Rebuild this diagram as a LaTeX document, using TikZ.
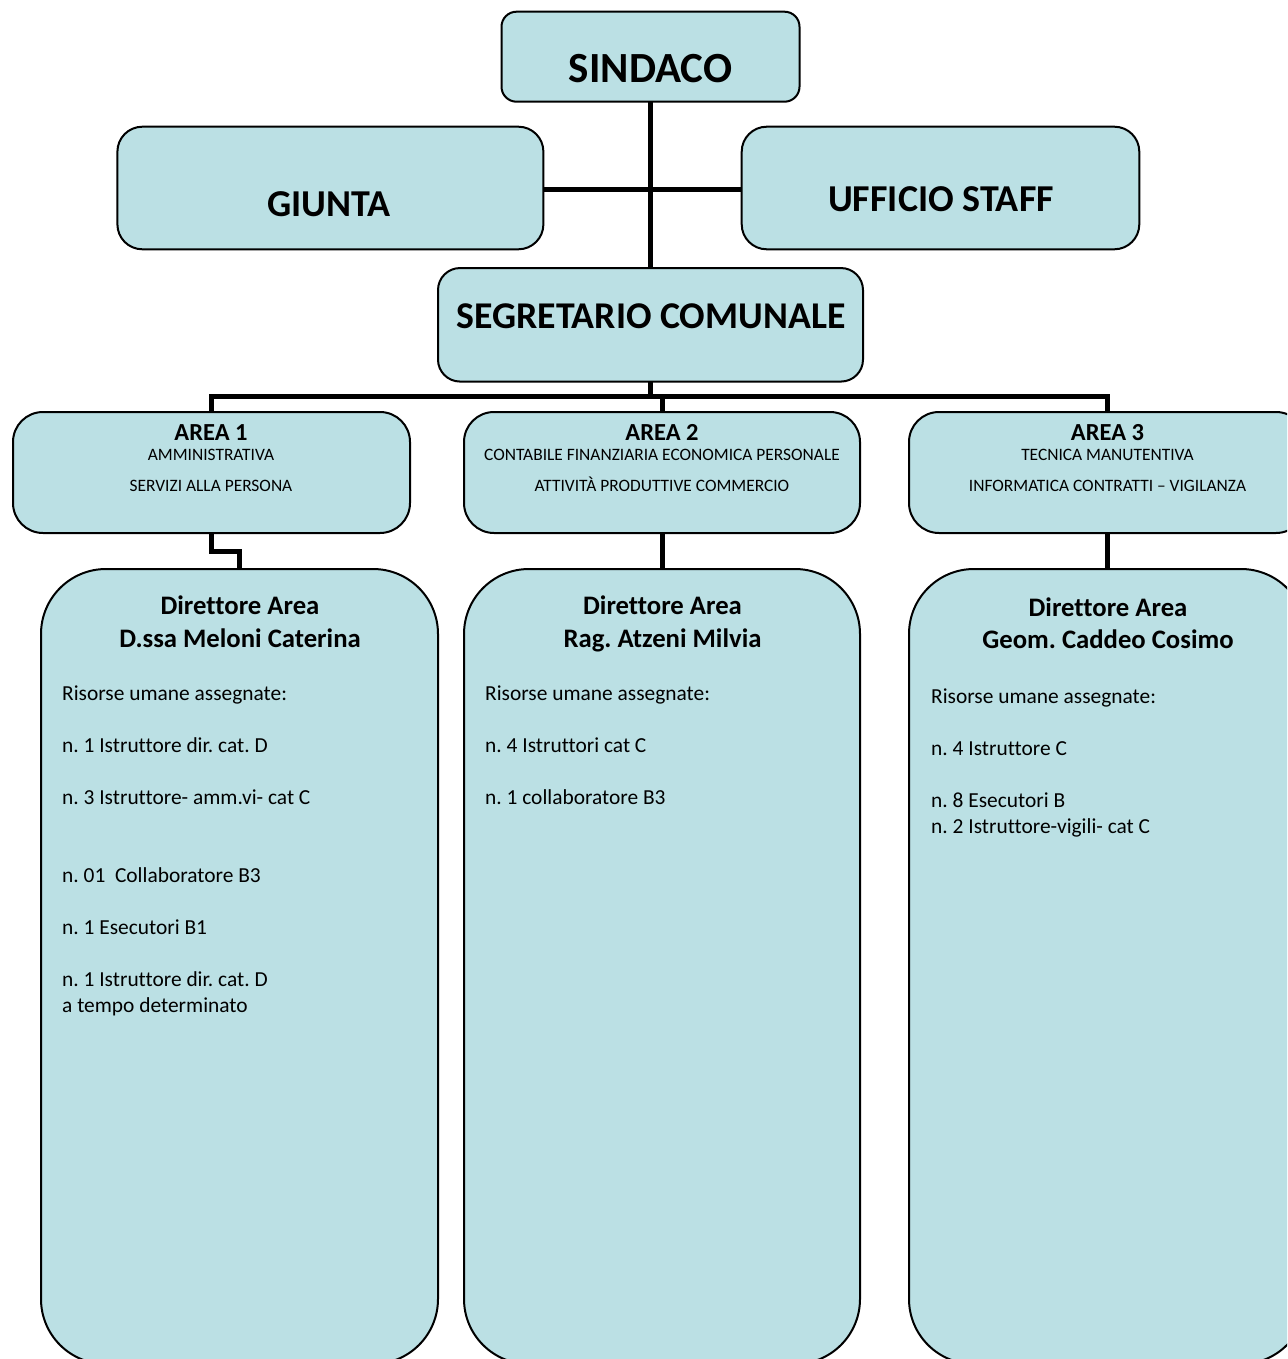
\documentclass[tikz,border=0pt]{standalone}
\usepackage{fontspec}
\setmainfont{Carlito}[Ligatures=NoCommon]
\definecolor{boxfill}{RGB}{187,224,228}
\frenchspacing
\begin{document}
\begin{tikzpicture}[x=1pt,y=-1pt,
  box/.style={draw=black, line width=2pt, fill=boxfill, inner sep=0pt, outer sep=0pt},
  conn/.style={draw=black, line width=5pt},
  big/.style={inner sep=0pt, anchor=base, font=\fontsize{43}{52}\bfseries\selectfont},
  mid/.style={inner sep=0pt, anchor=base, font=\fontsize{38}{46}\bfseries\selectfont},
  segt/.style={inner sep=0pt, anchor=base, font=\fontsize{37.8}{46}\bfseries\selectfont},
  areat/.style={inner sep=0pt, anchor=base, font=\fontsize{24.5}{30}\bfseries\selectfont},
  areasub/.style={inner sep=0pt, anchor=base, font=\fontsize{17.4}{21}\selectfont},
  dirt/.style={inner sep=0pt, anchor=base, font=\fontsize{26.7}{32.8}\bfseries\selectfont},
  body/.style={inner sep=0pt, anchor=base west, font=\fontsize{21.4}{26.1}\selectfont}]
\useasboundingbox (0,0) rectangle (1287,1359);
\clip (0,0) rectangle (1287,1359);
\fill[white] (0,0) rectangle (1287,1359);

% boxes
\node[box, rounded corners=15pt, minimum width=298pt, minimum height=90pt] (sindaco) at (650.5,56.7) {};
\node[box, rounded corners=25pt, minimum width=426pt, minimum height=122.6pt] (giunta) at (330.4,188) {};
\node[box, rounded corners=25pt, minimum width=397.6pt, minimum height=122.6pt] (staff) at (940.5,188) {};
\node[box, rounded corners=22pt, minimum width=425pt, minimum height=113.5pt] (segr) at (650.5,324.8) {};
\node[box, rounded corners=30pt, minimum width=397pt, minimum height=121pt] (area1) at (211.5,472.5) {};
\node[box, rounded corners=30pt, minimum width=396pt, minimum height=121pt] (area2) at (662,472.5) {};
\node[box, rounded corners=30pt, minimum width=397pt, minimum height=121pt] (area3) at (1107.5,472.5) {};
\node[box, rounded corners=65pt, minimum width=397pt, minimum height=795pt] (dir1) at (239.5,966.5) {};
\node[box, rounded corners=65pt, minimum width=396pt, minimum height=795pt] (dir2) at (662,966.5) {};
\node[box, rounded corners=65pt, minimum width=397pt, minimum height=795pt] (dir3) at (1107.5,966.5) {};

% connectors
\coordinate (busy) at (0,396);
\draw[conn] (sindaco.south) -- (segr.north);
\draw[conn] ([yshift=-2pt]giunta.east) -- ([yshift=-2pt]staff.west);
\draw[conn] (segr.south) -- (segr.south |- busy);
\draw[conn] (area1.north) -- (area1.north |- busy) -- (area3.north |- busy) -- (area3.north);
\draw[conn] (area2.north |- busy) -- (area2.north);
\draw[conn] (area1.south) -- ++(0,18.5) -| (dir1.north);
\draw[conn] (area2.south) -- (dir2.north);
\draw[conn] (area3.south) -- (dir3.north);

% labels
\node[big] (tsindaco) at (650.5,83) {SINDACO};
\node[mid] (tgiunta) at (329,216) {GIUNTA};
\node[mid] (tstaff) at (941,211.7) {UFFICIO STAFF};
\node[segt] (tsegr) at (651,328) {SEGRETARIO COMUNALE};

\node[areat] (ta1) at (211,440.7) {AREA 1};
\node[areasub] (ta1a) at (211,460) {AMMINISTRATIVA};
\node[areasub] (ta1b) at (211,491.7) {SERVIZI ALLA PERSONA};
\node[areat] (ta2) at (662,440.7) {AREA 2};
\node[areasub] (ta2a) at (662,460) {CONTABILE FINANZIARIA ECONOMICA PERSONALE};
\node[areasub] (ta2b) at (662,491.7) {ATTIVITÀ PRODUTTIVE COMMERCIO};
\node[areat] (ta3) at (1107.5,440.7) {AREA 3};
\node[areasub] (ta3a) at (1107.5,460) {TECNICA MANUTENTIVA};
\node[areasub] (ta3b) at (1107.5,491.7) {INFORMATICA CONTRATTI -- VIGILANZA};

\node[dirt] (td1) at (240,614.5) {\begin{tabular}[t]{@{}c@{}}Direttore Area\\D.ssa Meloni Caterina\end{tabular}};
\node[dirt] (td2) at (662.5,614.5) {\begin{tabular}[t]{@{}c@{}}Direttore Area\\Rag. Atzeni Milvia\end{tabular}};
\node[dirt] (td3) at (1108,616) {\begin{tabular}[t]{@{}c@{}}Direttore Area\\Geom. Caddeo Cosimo\end{tabular}};

\node[body] (b1) at (62,700) {\begin{tabular}[t]{@{}l@{}}Risorse umane assegnate:\\[26pt]
n. 1 Istruttore dir. cat. D\\[26pt]
n. 3 Istruttore- amm.vi- cat C\\[52pt]
n. 01\ \ Collaboratore B3\\[26pt]
n. 1 Esecutori B1\\[26pt]
n. 1 Istruttore dir. cat. D\\
a tempo determinato\end{tabular}};
\node[body] (b2) at (485,700) {\begin{tabular}[t]{@{}l@{}}Risorse umane assegnate:\\[26pt]
n. 4 Istruttori cat C\\[26pt]
n. 1 collaboratore B3\end{tabular}};
\node[body] (b3) at (931,703) {\begin{tabular}[t]{@{}l@{}}Risorse umane assegnate:\\[26pt]
n. 4 Istruttore C\\[26pt]
n. 8 Esecutori B\\
n. 2 Istruttore-vigili- cat C\end{tabular}};
\end{tikzpicture}
\end{document}
